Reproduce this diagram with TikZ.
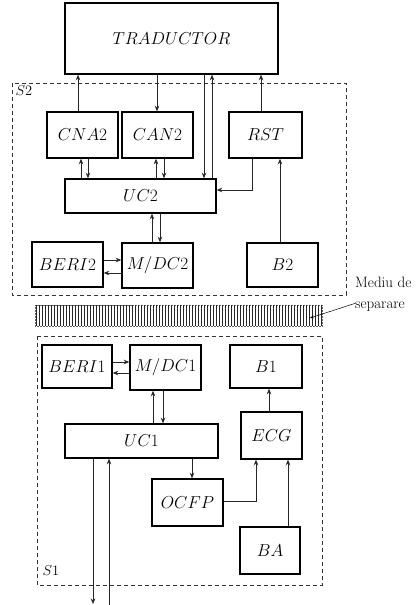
\documentclass[tikz,border=0pt]{standalone}
\usepackage{tikz}
\usetikzlibrary{arrows.meta, positioning, calc}
\tikzset{
  % functional blocks
  blk/.style={rectangle, draw=black, line width=1.5pt, fill=white, inner sep=0pt,
              font=\fontsize{16}{19}\selectfont},
  % subsystem frames S1 / S2
  sysframe/.style={draw=black!80, dashed, dash pattern=on 4pt off 3pt, line width=0.6pt},
  % signal lines
  barrow/.style={-{Stealth[length=5.5pt,width=4.5pt]}, draw=black!85, line width=0.6pt},
  % separation medium hatching
  hatch/.style={draw=black!85, line width=1pt},
}

\begin{document}
\begin{tikzpicture}[x=1pt, y=-1pt, font=\fontsize{15}{19}\selectfont]
\useasboundingbox (0,0) rectangle (420,605);

% ── Transducer ───────────────────────────────────────────────────────────────
\node[blk, minimum width=213pt, minimum height=71pt] (trad) at (171.5,38.5) {$TRADUCTOR$};

% ── Subsystem S2 ─────────────────────────────────────────────────────────────
\draw[sysframe] (12,83) rectangle (346,295);
\node (s2lbl) at (24,91) {$S2$};

\node[blk, minimum width=71pt, minimum height=46pt] (cna2)  at (82.5,135)  {$CNA2$};
\node[blk, minimum width=71pt, minimum height=46pt] (can2)  at (157.5,135) {$CAN2$};
\node[blk, minimum width=73pt, minimum height=46pt] (rst)   at (265.5,135) {$RST$};
\node[blk, minimum width=151pt, minimum height=34pt] (uc2)  at (140.5,196) {$UC2$};
\node[blk, minimum width=71pt, minimum height=45pt] (beri2) at (67.5,264.5) {$BERI2$};
\node[blk, minimum width=71pt, minimum height=45pt] (mdc2)  at (157.5,265.5) {$M/DC2$};
\node[blk, minimum width=71pt, minimum height=44pt] (b2)    at (282.5,265) {$B2$};

% ── Separation medium ────────────────────────────────────────────────────────
\draw[line width=0.5pt, draw=black!60, densely dotted] (35,305) rectangle (322,326);
\foreach \x in {36,39,...,321}
  \draw[hatch] (\x,305) -- (\x,326);
\coordinate (barpt) at (310,318);
\node[anchor=north west, align=left, inner sep=0pt, font=\fontsize{15}{21}\selectfont]
  (sep) at (355,277) {Mediu de\\separare};
\draw[-{Stealth[length=4pt,width=3pt]}, line width=0.5pt] ([yshift=-9pt]sep.west) -- (barpt);

% ── Subsystem S1 ─────────────────────────────────────────────────────────────
\draw[sysframe] (37,336) rectangle (322,585);
\node (s1lbl) at (51,571) {$S1$};

\node[blk, minimum width=70pt, minimum height=43pt] (beri1) at (77,366.5)   {$BERI1$};
\node[blk, minimum width=71pt, minimum height=45pt] (mdc1)  at (165.5,367.5) {$M/DC1$};
\node[blk, minimum width=72pt, minimum height=43pt] (b1)    at (266,366.5)  {$B1$};
\node[blk, minimum width=153pt, minimum height=34pt] (uc1)  at (141.5,441)  {$UC1$};
\node[blk, minimum width=61pt, minimum height=47pt] (ecg)   at (271.5,435.5) {$ECG$};
\node[blk, minimum width=71pt, minimum height=47pt] (ocfp)  at (187.5,502.5) {$OCFP$};
\node[blk, minimum width=60pt, minimum height=47pt] (ba)    at (270,550.5)  {$BA$};

\coordinate (outdn) at (93,604);
\coordinate (outup) at (109,605);

% ── Arrows S2 ────────────────────────────────────────────────────────────────
\draw[barrow] ([xshift=-4.5pt]cna2.north) -- ([xshift=-4.5pt]cna2.north |- trad.south);
\draw[barrow] ([xshift=-0.5pt]can2.north |- trad.south) -- ([xshift=-0.5pt]can2.north);
\draw[barrow] ([xshift=63.5pt]uc2.north |- trad.south) -- ([xshift=63.5pt]uc2.north);
\draw[barrow] ([xshift=71.5pt]uc2.north) -- ([xshift=71.5pt]uc2.north |- trad.south);
\draw[barrow] ([xshift=-4.5pt]rst.north) -- ([xshift=-4.5pt]rst.north |- trad.south);

\draw[barrow] ([xshift=-1.5pt]cna2.south |- uc2.north) -- ([xshift=-1.5pt]cna2.south);
\draw[barrow] ([xshift=5.5pt]cna2.south) -- ([xshift=5.5pt]cna2.south |- uc2.north);
\draw[barrow] ([xshift=-1.5pt]can2.south |- uc2.north) -- ([xshift=-1.5pt]can2.south);
\draw[barrow] ([xshift=6.5pt]can2.south) -- ([xshift=6.5pt]can2.south |- uc2.north);
\draw[barrow] ([xshift=-13.5pt]rst.south) |- ([yshift=6pt]uc2.east);
\draw[barrow] ([xshift=-2.5pt]b2.north) -- ([xshift=-2.5pt]b2.north |- rst.south);

\draw[barrow] ([xshift=-5.5pt]mdc2.north) -- ([xshift=-5.5pt]mdc2.north |- uc2.south);
\draw[barrow] ([xshift=2.5pt]mdc2.north |- uc2.south) -- ([xshift=2.5pt]mdc2.north);
\draw[barrow] ([yshift=4.5pt]beri2.east) -- ([yshift=4.5pt]beri2.east -| mdc2.west);
\draw[barrow] ([yshift=-8.5pt]beri2.east -| mdc2.west) -- ([yshift=-8.5pt]beri2.east);

% ── Arrows S1 ────────────────────────────────────────────────────────────────
\draw[barrow] ([yshift=4.5pt]beri1.east) -- ([yshift=4.5pt]beri1.east -| mdc1.west);
\draw[barrow] ([yshift=-6.5pt]beri1.east -| mdc1.west) -- ([yshift=-6.5pt]beri1.east);
\draw[barrow] ([xshift=-12.5pt]mdc1.south |- uc1.north) -- ([xshift=-12.5pt]mdc1.south);
\draw[barrow] ([xshift=-2.5pt]mdc1.south) -- ([xshift=-2.5pt]mdc1.south |- uc1.north);

\draw[barrow] (uc1.south -| outdn) -- (outdn);
\draw[barrow] (outup) -- (uc1.south -| outup);
\draw[barrow] ([xshift=4.5pt]ocfp.north |- uc1.south) -- ([xshift=4.5pt]ocfp.north);
\draw[barrow] ([yshift=1.5pt]ocfp.east) -| ([xshift=-15.5pt]ecg.south);
\draw[barrow] ([xshift=-2.5pt]ecg.north) -- ([xshift=-2.5pt]ecg.north |- b1.south);
\draw[barrow] ([xshift=18pt]ba.north) -- ([xshift=18pt]ba.north |- ecg.south);

\end{tikzpicture}
\end{document}
